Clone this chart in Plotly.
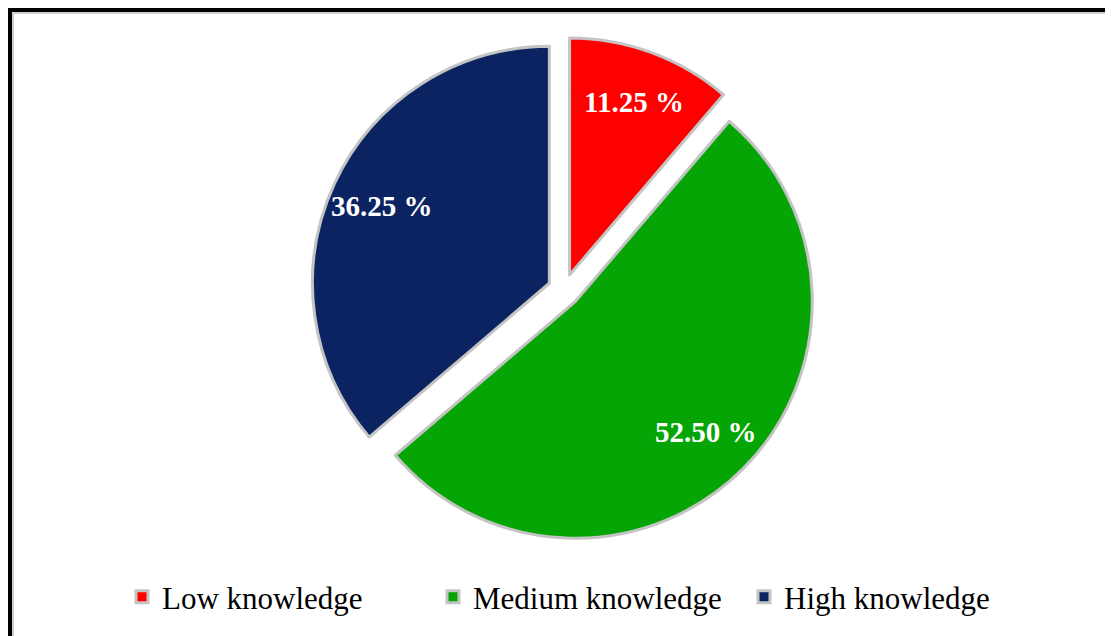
import math
import plotly.graph_objects as go

categories = ["Low knowledge", "Medium knowledge", "High knowledge"]
values = [11.25, 52.50, 36.25]
colors = ["#FF0000", "#05A505", "#0B2461"]

W, H = 1113, 636
cx, cy, half = 556, 282, 253       # pie box centre / half size in px
pull = 0.068
label_frac = 0.78
serif = "Liberation Serif, Times New Roman, serif"

fig = go.Figure(go.Pie(
    labels=categories,
    values=values,
    sort=False,
    direction="clockwise",
    rotation=0,
    pull=[pull] * len(values),
    marker=dict(colors=colors, line=dict(color="#C4C4C4", width=3)),
    textinfo="none",
    hoverinfo="label+value",
    domain=dict(x=[(cx - half) / W, (cx + half) / W],
                y=[1 - (cy + half) / H, 1 - (cy - half) / H]),
))

# data labels placed along each slice's bisector (angles derived from the values)
r = half / (1 + pull)
total = sum(values)
cum = 0.0
annotations = []
for v in values:
    theta = 2 * math.pi * (cum + v / 2) / total
    cum += v
    dist = r * (pull + label_frac)
    px = cx + dist * math.sin(theta)
    py = cy - dist * math.cos(theta)
    annotations.append(dict(
        x=px / W, y=1 - py / H, xref="paper", yref="paper",
        text=f"<b>{v:.2f} %</b>", showarrow=False,
        xanchor="center", yanchor="middle",
        font=dict(family=serif, size=29, color="white"),
    ))

fig.update_layout(
    width=W, height=H,
    margin=dict(l=0, r=0, t=0, b=0),
    paper_bgcolor="white",
    showlegend=True,
    legend=dict(
        orientation="h", x=114 / W, xanchor="left", y=1 - 589 / H, yanchor="middle",
        font=dict(family=serif, size=31, color="black"),
        entrywidth=266, entrywidthmode="pixels",
    ),
    annotations=annotations,
    shapes=[
        dict(type="rect", xref="paper", yref="paper",
             x0=2 / W, x1=1.05, y0=-0.05, y1=1 - 2 / H,
             line=dict(color="black", width=4)),
        dict(type="rect", xref="paper", yref="paper",
             x0=5 / W, x1=1.05, y0=-0.05, y1=1 - 5 / H,
             line=dict(color="#A0A0A0", width=1)),
    ],
)

fig.write_html("out.html")
